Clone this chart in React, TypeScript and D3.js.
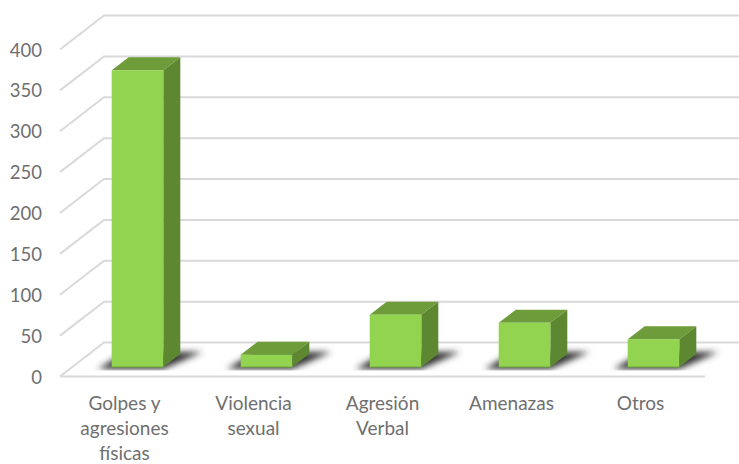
import * as d3 from "d3";
import React from "react";

const categories = ["Golpes y agresiones físicas", "Violencia sexual", "Agresión Verbal", "Amenazas", "Otros"];
const categoryLines = [["Golpes y", "agresiones", "físicas"], ["Violencia", "sexual"], ["Agresión", "Verbal"], ["Amenazas"], ["Otros"]];
const values = [363, 15, 64, 54, 34];
const yTicks = [0, 50, 100, 150, 200, 250, 300, 350, 400];

const fullwidth = 739;
const fullheight = 464;
const font = "Lato, 'Open Sans', sans-serif";
const grey = "#6f6f6f";
const gridColor = "#d9d9d9";

// 3d offsets: wall depth, and where the bar sits inside it
const wallDx = 44;
const wallDy = -34;
const gapDx = 13;
const gapDy = -9.5;
const barDx = 17;
const barDy = -13;

export default function App() {
    const x = d3.scaleBand<string>().domain(categories).range([60, 705]).paddingInner(0.6).paddingOuter(0.3);
    const y = d3.scaleLinear().domain([0, 400]).range([376.5, 49.5]);
    const zero = y(0);
    const area = d3.line();

    return (
        <svg width={fullwidth} height={fullheight} style={{ position: "absolute", left: 0, top: 0, background: "#fff" }}>
            <defs>
                <filter id="blur" x="-40%" y="-80%" width="180%" height="260%">
                    <feGaussianBlur stdDeviation="3" />
                </filter>
                <clipPath id="floorClip">
                    <rect x={0} y={0} width={fullwidth} height={zero - 6} />
                </clipPath>
            </defs>

            {yTicks.map((t) => (
                <g key={t}>
                    <path d={area([[60, y(t)], [60 + wallDx, y(t) + wallDy], [745, y(t) + wallDy]]) || ""} fill="none" stroke={gridColor} strokeWidth={2} />
                    <text x={42} y={y(t) + 7} textAnchor="end" fontFamily={font} fontSize={18.5} fill={grey}>{t}</text>
                </g>
            ))}
            <line x1={60} x2={705} y1={zero} y2={zero} stroke={gridColor} strokeWidth={2} />

            {categories.map((c, i) => {
                const x0 = (x(c) as number) + gapDx;
                const w = x.bandwidth();
                const base = zero + gapDy;
                const top = y(values[i]) + gapDy;
                return (
                    <g key={c}>
                        <g clipPath="url(#floorClip)">
                            <path
                                d={area([[x0 - 14, base + 2], [x0 + w, base + 2], [x0 + w + barDx + 22, base - 15], [x0 + 14, base - 15]]) + "Z"}
                                fill="#333333"
                                filter="url(#blur)"
                            />
                        </g>
                        <path d={area([[x0, top], [x0 + barDx, top + barDy], [x0 + w + barDx, top + barDy], [x0 + w, top]]) + "Z"} fill="#6f9c3a" />
                        <path d={area([[x0 + w, top], [x0 + w + barDx, top + barDy], [x0 + w + barDx, base + barDy], [x0 + w, base]]) + "Z"} fill="#5e8732" />
                        <rect x={x0} y={top} width={w} height={base - top} fill="#92d350" />
                        <line x1={x0} x2={x0 + w} y1={base} y2={base} stroke="#6fa63a" strokeWidth={1} />
                    </g>
                );
            })}

            {categories.map((c, i) => (
                <text key={c} textAnchor="middle" fontFamily={font} fontSize={19} fill={grey}>
                    {categoryLines[i].map((l, j) => (
                        <tspan key={l} x={(x(c) as number) + x.bandwidth() / 2} y={410 + j * 25}>{l}</tspan>
                    ))}
                </text>
            ))}
        </svg>
    );
}
